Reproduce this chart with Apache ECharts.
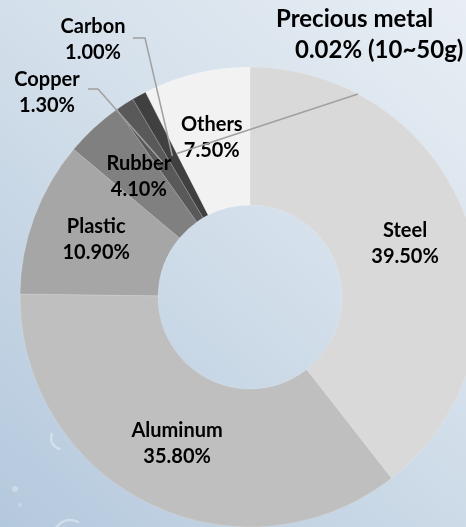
<!DOCTYPE html>
<html>
<head>
<meta charset="utf-8">
<script src="https://cdn.jsdelivr.net/npm/echarts@6/dist/echarts.min.js"></script>
<style>
  html, body { margin: 0; padding: 0; }
  #chart { width: 466px; height: 527px; }
</style>
</head>
<body>
<div id="chart"></div>
<script>
// Composition of a vehicle by material (share of weight, %)
const categories = ['Steel', 'Aluminum', 'Plastic', 'Rubber', 'Copper', 'Carbon', 'Precious metal', 'Others'];
const shares = [39.5, 35.8, 10.9, 4.1, 1.3, 1.0, 0.02, 7.5];
const sliceColors = ['#d9d9d9', '#bfbfbf', '#a6a6a6', '#808080', '#595959', '#404040', '#262626', '#f2f2f2'];
// Materials labelled outside the ring with a leader line
const calloutNames = ['Copper', 'Carbon', 'Precious metal'];
const preciousNote = ' (10~50g)';

const FONT = 'Lato, "Open Sans", sans-serif';
const CENTER = [250, 297];
const R_INNER = 92;
const R_OUTER = 230;
const R_MID = (R_INNER + R_OUTER) / 2;

// Where each callout text sits and how its leader line bends
const calloutLayout = {
  'Copper':         { x: 47,  y: 93, align: 'center', elbow: [98, 89],  end: [88, 89] },
  'Carbon':         { x: 93,  y: 40, align: 'center', elbow: [145, 38], end: [133, 38] },
  'Precious metal': { x: 276, y: 35, align: 'left',   elbow: [358, 94], end: [358, 94] }
};

const pct = v => v.toFixed(2) + '%';

const ringData = categories.map((name, i) => {
  const isCallout = calloutNames.indexOf(name) >= 0;
  return {
    name: name,
    value: shares[i],
    itemStyle: { color: sliceColors[i] },
    label: { show: !isCallout }
  };
});

const calloutData = categories.map((name, i) => {
  const isCallout = calloutNames.indexOf(name) >= 0;
  return {
    name: name,
    value: shares[i],
    label: { show: isCallout },
    labelLine: { show: isCallout }
  };
});

const chart = echarts.init(document.getElementById('chart'), null, { renderer: 'canvas' });

chart.setOption({
  animation: false,
  backgroundColor: {
    type: 'linear', x: 1, y: 0, x2: 0, y2: 1,
    colorStops: [
      { offset: 0, color: '#e8eef4' },
      { offset: 0.5, color: '#d0dde9' },
      { offset: 1, color: '#b4c8dd' }
    ]
  },
  graphic: [
    { type: 'arc', shape: { cx: 62, cy: 438, r: 11, startAngle: 1.7, endAngle: 3.6 }, style: { stroke: 'rgba(255,255,255,0.35)', lineWidth: 2.5, fill: null }, silent: true, z: -1 },
    { type: 'circle', shape: { cx: 15, cy: 489, r: 3 }, style: { fill: 'rgba(255,255,255,0.3)' }, silent: true, z: -1 },
    { type: 'arc', shape: { cx: 70, cy: 536, r: 16, startAngle: 3.6, endAngle: 5.3 }, style: { stroke: 'rgba(255,255,255,0.35)', lineWidth: 2.5, fill: null }, silent: true, z: -1 },
    { type: 'circle', shape: { cx: 20, cy: 505, r: 2 }, style: { fill: 'rgba(255,255,255,0.25)' }, silent: true, z: -1 }
  ],
  series: [
    {
      type: 'pie',
      center: CENTER,
      radius: [R_INNER, R_OUTER],
      startAngle: 90,
      clockwise: true,
      avoidLabelOverlap: false,
      silent: true,
      itemStyle: { borderColor: 'rgba(255,255,255,0.25)', borderWidth: 0.6 },
      label: {
        position: 'inside',
        fontFamily: FONT,
        fontWeight: 'bold',
        fontSize: 20,
        lineHeight: 26,
        color: '#000',
        formatter: p => p.name + '\n' + pct(p.value)
      },
      labelLine: { show: false },
      data: ringData
    },
    {
      // transparent twin ring: its edge sits at mid-ring, where the leader lines start
      type: 'pie',
      center: CENTER,
      radius: [0, R_MID],
      startAngle: 90,
      clockwise: true,
      avoidLabelOverlap: false,
      silent: true,
      z: 3,
      itemStyle: { color: 'rgba(0,0,0,0)', borderWidth: 0 },
      label: {
        position: 'outside',
        fontFamily: FONT,
        fontWeight: 'bold',
        fontSize: 20,
        lineHeight: 26,
        color: '#000',
        formatter: p => {
          if (p.name === 'Precious metal') {
            return '{big|' + p.name + '}\n{note|' + pct(p.value) + preciousNote + '}';
          }
          return p.name + '\n' + pct(p.value);
        },
        rich: {
          big: { fontFamily: FONT, fontWeight: 'bold', fontSize: 24, lineHeight: 31, color: '#000' },
          note: { fontFamily: FONT, fontWeight: 'bold', fontSize: 24, lineHeight: 31, color: '#000', padding: [0, 0, 0, 19] }
        }
      },
      labelLine: {
        show: true,
        length: 10,
        length2: 10,
        lineStyle: { color: '#a0a0a0', width: 1.5 }
      },
      labelLayout: function (params) {
        const c = calloutLayout[categories[params.dataIndex]];
        if (!c) return {};
        const pts = params.labelLinePoints;
        const out = { x: c.x, y: c.y, align: c.align, verticalAlign: 'middle' };
        if (pts && pts.length) {
          out.labelLinePoints = [pts[0], c.elbow, c.end];
        }
        return out;
      },
      data: calloutData
    }
  ]
});
</script>
</body>
</html>
